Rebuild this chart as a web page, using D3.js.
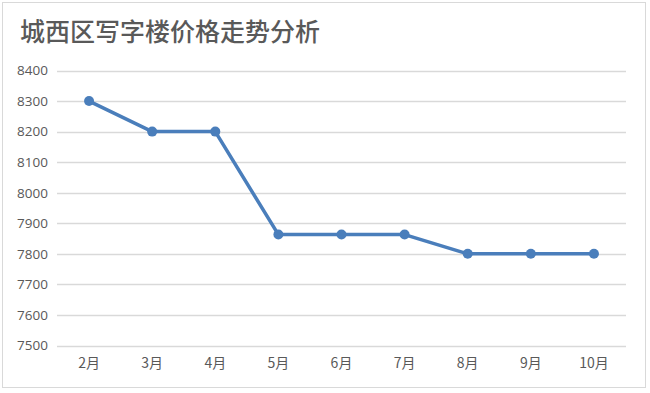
<!DOCTYPE html>
<html>
<head>
<meta charset="utf-8">
<script src="https://cdn.jsdelivr.net/npm/d3@7"></script>
<style>
  body { margin: 0; background: #fff; }
  text { font-family: "Noto Sans CJK SC", "Open Sans", sans-serif; }
</style>
</head>
<body>
<div id="vis"></div>
<script>
// chart data
var title = "城西区写字楼价格走势分析";
var months = ["2月", "3月", "4月", "5月", "6月", "7月", "8月", "9月", "10月"];
var prices = [8300, 8200, 8200, 7863, 7863, 7863, 7800, 7800, 7800];
var yTicks = [7500, 7600, 7700, 7800, 7900, 8000, 8100, 8200, 8300, 8400];

var width = 650,
    height = 393;

var svg = d3.select("#vis").append("svg")
    .attr("width", width)
    .attr("height", height);

// outer frame
svg.append("rect")
    .attr("x", 2.5).attr("y", 2.5)
    .attr("width", 643).attr("height", 385)
    .attr("fill", "#fff")
    .attr("stroke", "#d9d9d9");

svg.append("text")
    .attr("x", 20)
    .attr("y", 41)
    .style("font-size", "25px")
    .style("font-weight", "500")
    .attr("fill", "#595959")
    .text(title);

var x = d3.scaleBand()
    .domain(months)
    .range([57.5, 625.5]);

var y = d3.scaleLinear()
    .domain([7500, 8400])
    .range([345.5, 70.5]);

// gridlines
svg.append("g")
    .selectAll("line")
    .data(yTicks)
    .enter().append("line")
    .attr("x1", 57)
    .attr("x2", 626)
    .attr("y1", function(d) { return Math.round(y(d)) + 0.5; })
    .attr("y2", function(d) { return Math.round(y(d)) + 0.5; })
    .attr("stroke", "#d9d9d9")
    .attr("stroke-width", 1.3);

// y axis labels
var yAxis = svg.append("g")
    .attr("transform", "translate(48,0)")
    .call(d3.axisLeft(y).tickValues(yTicks).tickFormat(d3.format("d")).tickSize(0).tickPadding(0));
yAxis.select(".domain").remove();
yAxis.selectAll("text")
    .style("font-family", "'Open Sans', sans-serif")
    .style("font-size", "13.5px")
    .attr("fill", "#595959");

// x axis labels
var xAxis = svg.append("g")
    .attr("transform", "translate(0,358)")
    .call(d3.axisBottom(x).tickSize(0).tickPadding(0));
xAxis.select(".domain").remove();
xAxis.selectAll("text")
    .style("font-size", "14px")
    .attr("fill", "#595959");

var line = d3.line()
    .x(function(d, i) { return x(months[i]) + x.bandwidth() / 2; })
    .y(function(d) { return y(d); });

svg.append("path")
    .datum(prices)
    .attr("d", line)
    .attr("fill", "none")
    .attr("stroke", "#4a7ebb")
    .attr("stroke-width", 3.5)
    .attr("stroke-linejoin", "round");

svg.selectAll(".dot")
    .data(prices)
    .enter().append("circle")
    .attr("class", "dot")
    .attr("cx", function(d, i) { return x(months[i]) + x.bandwidth() / 2; })
    .attr("cy", function(d) { return y(d); })
    .attr("r", 5)
    .attr("fill", "#4a7ebb");
</script>
</body>
</html>
